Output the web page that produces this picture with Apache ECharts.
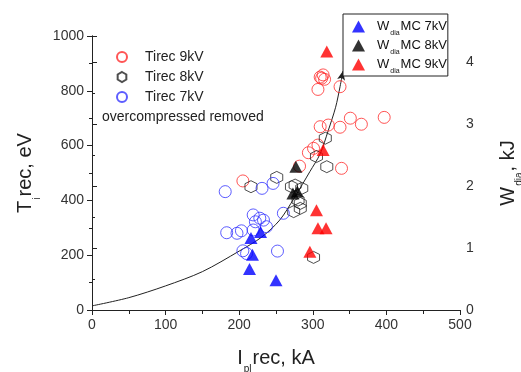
<!DOCTYPE html>
<html>
<head>
<meta charset="utf-8">
<script src="https://cdn.jsdelivr.net/npm/echarts@6/dist/echarts.min.js"></script>
</head>
<body style="margin:0">
<div id="main" style="width:521px;height:372px"></div>
<script>
// Ti rec (eV) vs Ipl rec (kA), open markers
var tirec9 = [[205,471],[310,850],[314,858],[316,842],[312,846],[307,805],[337,815],
  [310,669],[321,675],[337,667],[351,700],[366,678],[397,703],
  [294,574],[301,590],[307,602],[282,525],[339,517]];
var tirec8 = [[216,450],[251,484],[317,627],[305,560],[319,523],[271,450],[276,456],
  [285,444],[280,401],[283,389],[283,371],[274,359],[301,192]];
var tirec7 = [[181,432],[246,462],[231,444],[219,347],[228,335],[233,328],[222,322],
  [237,304],[219,292],[183,282],[197,280],[203,289],[260,353],[205,216],[210,206],[252,215]];
// Wdia MC (kJ), right axis
var wmc7 = [[216,1.16],[229,1.26],[218,0.89],[214,0.66],[250,0.48]];
var wmc8 = [[277,2.31],[273,1.88],[279,1.91]];
var wmc9 = [[319,4.17],[314,2.58],[305,1.61],[307,1.32],[318,1.32],[296,0.94]];
// hand-drawn guide curve
var curve = [[0,15],[50,45],[100,88],[150,140],[200,215],[230,265],[255,328],[275,410],
  [296,505],[310,570],[321,655],[331,740],[337,815],[341,872]];

var font = 'Liberation Sans';
var hexagon = 'path://M0,-1L0.866,-0.5L0.866,0.5L0,1L-0.866,0.5L-0.866,-0.5Z';
var subRich = {
  f: {fontSize: 13, fontFamily: font, color: '#111', lineHeight: 15, padding: [0, 0, 0, 7]},
  n: {fontSize: 13, fontFamily: font, color: '#111', lineHeight: 15},
  s: {fontSize: 7, fontFamily: font, color: '#111', lineHeight: 7, verticalAlign: 'bottom', padding: [0, 1, -3, 1]}
};
var nameRich = {
  n: {fontSize: 20, fontFamily: font, color: '#222', lineHeight: 24},
  s: {fontSize: 10, fontFamily: font, color: '#222', lineHeight: 10, verticalAlign: 'bottom', padding: [0, 1, -4, 1]}
};

var myChart = echarts.init(document.getElementById('main'));
var curveData = curve.map(function (p, i) {
  if (i === curve.length - 1) {
    return {value: p, symbol: 'arrow', symbolSize: [6, 9], symbolRotate: -12,
      itemStyle: {color: '#222'}};
  }
  return {value: p, symbol: 'none'};
});

var option = {
  backgroundColor: '#fff',
  animation: false,
  textStyle: {fontFamily: font},
  grid: {left: 92, right: 61, top: 36, bottom: 62, outerBoundsMode: 'none', containLabel: false},
  graphic: [{
    type: 'text', left: 102, top: 110,
    style: {text: 'overcompressed removed', fontSize: 14, fontFamily: font, fill: '#222'}
  }],
  legend: [{
    orient: 'vertical', left: 111, top: 45,
    itemWidth: 20, itemHeight: 10, itemGap: 6,
    textStyle: {fontSize: 14, fontFamily: font, color: '#222', padding: [0, 0, 0, 8]},
    data: ['Tirec 9kV', 'Tirec 8kV', 'Tirec 7kV']
  }, {
    orient: 'vertical', left: 343, top: 14,
    padding: [6, 1, 1, 9],
    itemWidth: 13, itemHeight: 12, itemGap: 2,
    borderColor: '#222', borderWidth: 1, backgroundColor: '#fff',
    data: ['W MC 7kV', 'W MC 8kV', 'W MC 9kV'],
    formatter: function (name) {
      return '{f|W}{s|dia}{n|' + name.slice(2) + '}';
    },
    textStyle: {rich: subRich}
  }],
  xAxis: [{
    type: 'value', min: 0, max: 500, interval: 100,
    name: '{n|I}{s|pl}{n|rec, kA}', nameLocation: 'middle', nameGap: 36,
    nameTextStyle: {rich: nameRich},
    axisLine: {lineStyle: {color: '#222', width: 1}},
    axisTick: {inside: false, length: 5, lineStyle: {color: '#222'}},
    minorTick: {show: true, splitNumber: 2, length: 3, lineStyle: {color: '#222'}},
    axisLabel: {fontSize: 14, color: '#333', margin: 8},
    splitLine: {show: false}
  }, {
    type: 'value', position: 'top', min: 0, max: 500, interval: 50,
    axisLine: {show: true, lineStyle: {color: '#222'}},
    axisTick: {inside: true, length: 4, lineStyle: {color: '#222'}},
    axisLabel: {show: false},
    splitLine: {show: false}
  }],
  yAxis: [{
    type: 'value', min: 0, max: 1000, interval: 200,
    name: '{n|T}{s|i}{n|rec, eV}', nameLocation: 'middle', nameGap: 51, nameRotate: 90,
    nameTextStyle: {rich: nameRich},
    axisLine: {show: true, lineStyle: {color: '#222'}},
    axisTick: {inside: false, length: 5, lineStyle: {color: '#222'}},
    minorTick: {show: true, splitNumber: 2, length: 3, lineStyle: {color: '#222'}},
    axisLabel: {fontSize: 14, color: '#333', margin: 8,
      formatter: function (v) { return String(v); }},
    splitLine: {show: false}
  }, {
    type: 'value', position: 'right', min: 0, max: 4.42, interval: 1,
    name: '{n|W}{s|dia}{n|, kJ}', nameLocation: 'middle', nameGap: 36, nameRotate: 90,
    nameTextStyle: {rich: nameRich},
    axisLine: {show: true, lineStyle: {color: '#222'}},
    axisTick: {inside: false, length: 5, lineStyle: {color: '#222'}},
    minorTick: {show: true, splitNumber: 2, length: 3, lineStyle: {color: '#222'}},
    axisLabel: {fontSize: 14, color: '#333', margin: 6,
      formatter: function (v) { return v % 1 === 0 ? String(v) : ''; }},
    splitLine: {show: false}
  }],
  series: [{
    type: 'line', data: curveData, xAxisIndex: 0, yAxisIndex: 0,
    smooth: 0.3, symbol: 'none', showSymbol: true, silent: true,
    lineStyle: {color: '#222', width: 1}, z: 1
  }, {
    name: 'Tirec 9kV', type: 'scatter', data: tirec9, yAxisIndex: 0,
    symbol: 'circle', symbolSize: 12,
    itemStyle: {color: 'transparent', borderColor: '#ff2a2a', borderWidth: 1}, z: 2
  }, {
    name: 'Tirec 8kV', type: 'scatter', data: tirec8, yAxisIndex: 0,
    symbol: hexagon, symbolSize: 12,
    itemStyle: {color: 'transparent', borderColor: '#222', borderWidth: 1}, z: 2
  }, {
    name: 'Tirec 7kV', type: 'scatter', data: tirec7, yAxisIndex: 0,
    symbol: 'circle', symbolSize: 12,
    itemStyle: {color: 'transparent', borderColor: '#3535ff', borderWidth: 1}, z: 2
  }, {
    name: 'W MC 7kV', type: 'scatter', data: wmc7, yAxisIndex: 1,
    symbol: 'triangle', symbolSize: [13, 12],
    itemStyle: {color: '#0000ff'}, z: 3
  }, {
    name: 'W MC 8kV', type: 'scatter', data: wmc8, yAxisIndex: 1,
    symbol: 'triangle', symbolSize: [13, 12],
    itemStyle: {color: '#000'}, z: 3
  }, {
    name: 'W MC 9kV', type: 'scatter', data: wmc9, yAxisIndex: 1,
    symbol: 'triangle', symbolSize: [13, 12],
    itemStyle: {color: '#ff0000'}, z: 3
  }]
};
myChart.setOption(option);
</script>
</body>
</html>
